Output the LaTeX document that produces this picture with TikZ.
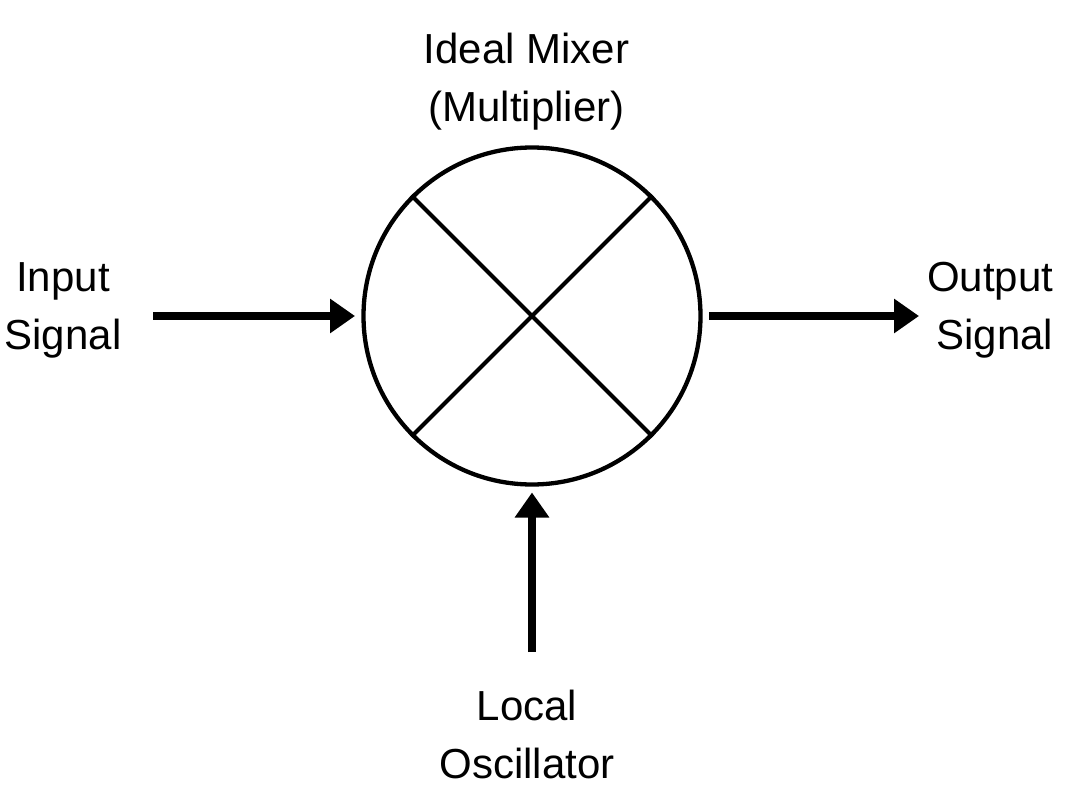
\documentclass[tikz,border=0pt]{standalone}
\usepackage{fontspec}
\setmainfont{Liberation Sans}
\usetikzlibrary{arrows.meta}
\begin{document}
\begin{tikzpicture}[x=1pt,y=-1pt,
  lbl/.style={inner sep=0pt,font=\fontsize{42}{58}\selectfont,align=center,text=black},
  sig/.style={line width=8pt,-{Triangle[length=25pt,width=33pt]}},
  wire/.style={line width=4pt,black}]
\useasboundingbox (0,0) rectangle (1069,808);
\fill[white] (0,0) rectangle (1069,808);
\node[circle,draw=black,line width=4.3pt,minimum size=337pt,inner sep=0pt] (mix) at (532,316) {};
\draw[wire] (mix.135) -- (mix.-45);
\draw[wire] (mix.45) -- (mix.-135);
\coordinate (inS) at (153,316);
\coordinate (inE) at (355,316);
\coordinate (outS) at (709,316);
\coordinate (outE) at (919,316);
\coordinate (loS) at (532,652);
\coordinate (loE) at (532,492.5);
\draw[sig] (inS) -- (inE);
\draw[sig] (outS) -- (outE);
\draw[sig] (loS) -- (loE);
\node[lbl] (t1) at (526.5,81.5) {Ideal Mixer\\(Multiplier)};
\node[lbl] (t2) at (63,310) {Input\\Signal};
\node[lbl,align=right,anchor=east] (t3) at (1053.5,310) {Output\\Signal};
\node[lbl] (t4) at (527,734.5) {Local\\Oscillator};
\end{tikzpicture}
\end{document}
